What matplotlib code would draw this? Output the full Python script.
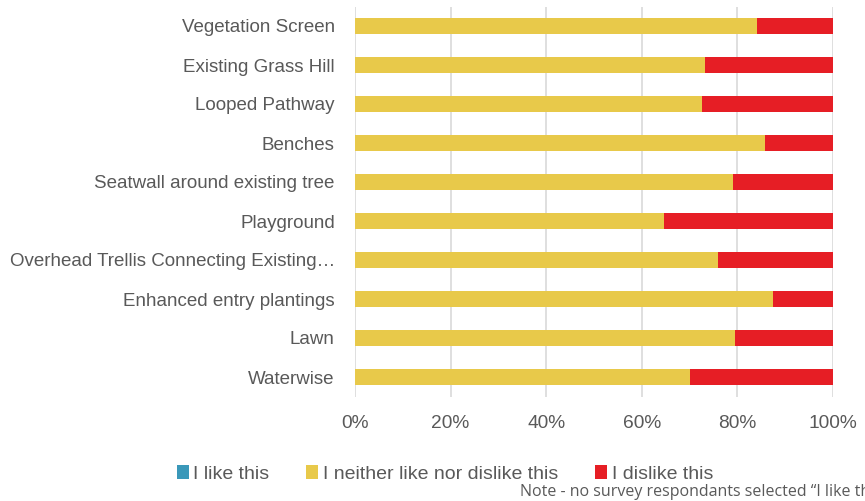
import matplotlib.pyplot as plt
import numpy as np
from matplotlib.patches import Patch

categories = ['Vegetation Screen', 'Existing Grass Hill', 'Looped Pathway', 'Benches',
              'Seatwall around existing tree', 'Playground',
              'Overhead Trellis Connecting Existing\u2026', 'Enhanced entry plantings',
              'Lawn', 'Waterwise']
like = [0, 0, 0, 0, 0, 0, 0, 0, 0, 0]
neither = [84.0, 73.2, 72.5, 85.8, 79.0, 64.7, 75.9, 87.5, 79.4, 70.1]
dislike = [100 - v for v in neither]
series_names = ['I like this', 'I neither like nor dislike this', 'I dislike this']
colors = ['#3A98B9', '#E8C94A', '#E61E25']
xticks = [0, 20, 40, 60, 80, 100]

plt.rcParams['font.family'] = ['Liberation Sans', 'DejaVu Sans']
text_color = '#595959'

fig = plt.figure(figsize=(8.65, 5.01), dpi=100)
ax = fig.add_axes([355 / 865, 1 - 396.5 / 501, 478 / 865, 390 / 501])

y = np.arange(len(categories))
left = np.zeros(len(categories))
for vals, c in zip([like, neither, dislike], colors):
    ax.barh(y, vals, left=left, height=0.39, color=c, zorder=3)
    left += np.array(vals)

ax.set_xlim(0, 100)
ax.set_ylim(len(categories) - 0.5, -0.5)
ax.set_yticks(y)
ax.set_yticklabels(categories, fontsize=13.5, color=text_color)
ax.set_xticks(xticks)
ax.set_xticklabels([f'{t}%' for t in xticks], fontsize=13.8, color=text_color)
ax.tick_params(axis='y', length=0, pad=14.5)
ax.tick_params(axis='x', length=0, pad=13)
ax.grid(axis='x', color='#D9D9D9', lw=1.2, zorder=0)
for s in ax.spines.values():
    s.set_visible(False)

handles = [Patch(facecolor=c, label=n) for c, n in zip(colors, series_names)]
fig.legend(handles=handles, loc='center', bbox_to_anchor=(445 / 865, 1 - 474 / 501),
           ncol=3, frameon=False, fontsize=14, labelcolor=text_color,
           handlelength=0.6, handleheight=0.7, handletextpad=0.25, columnspacing=1.9)

fig.text(520 / 865, 1 - 492 / 501, 'Note - no survey respondants selected \u201cI like this\u201d',
         fontsize=11.5, color=text_color, family=['Open Sans', 'DejaVu Sans'],
         ha='left', va='center')

fig.savefig('out.png', dpi=100)
